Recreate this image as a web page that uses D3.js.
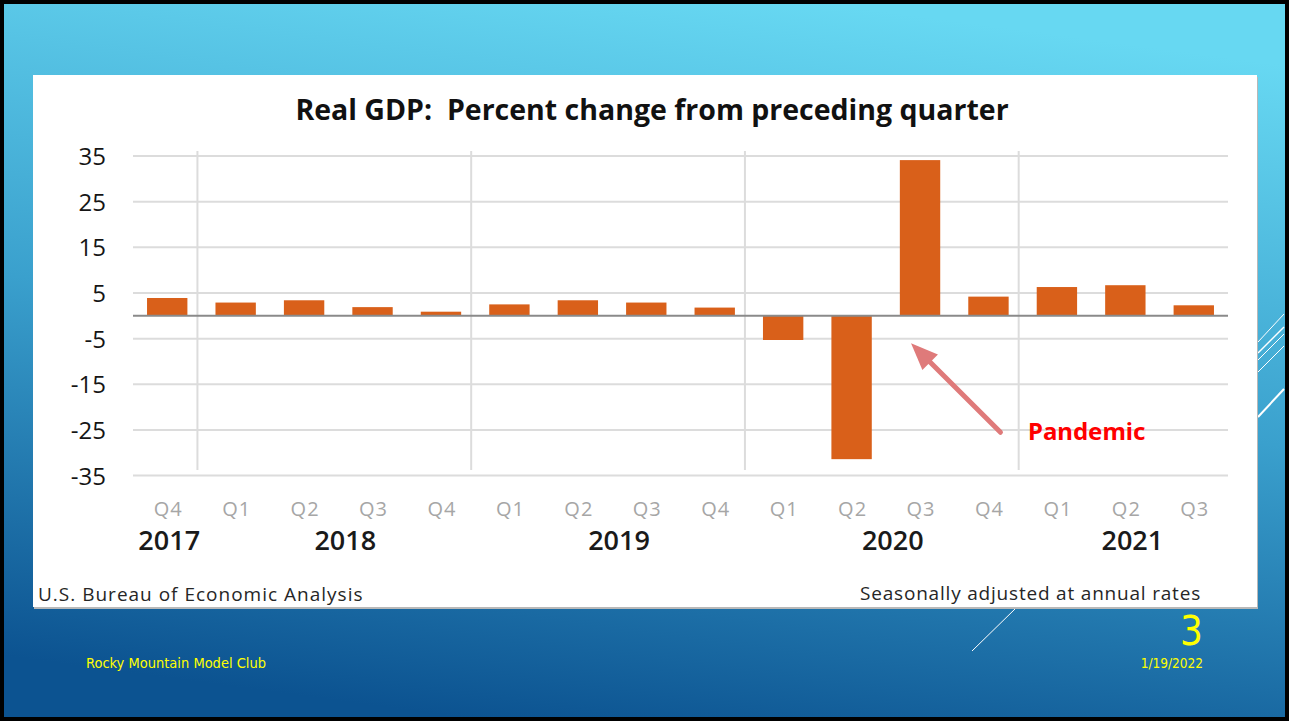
<!DOCTYPE html>
<html>
<head>
<meta charset="utf-8">
<script src="https://cdn.jsdelivr.net/npm/d3@7"></script>
<style>
  html, body { margin: 0; padding: 0; background: #000; }
  svg { display: block; }
</style>
</head>
<body>
<div id="slide"></div>
<script>
// chart values
var quarters = ["Q4","Q1","Q2","Q3","Q4","Q1","Q2","Q3","Q4","Q1","Q2","Q3","Q4","Q1","Q2","Q3"];
var years = ["2017","2018","2019","2020","2021"];
var yearOfQuarter = ["2017","2018","2018","2018","2018","2019","2019","2019","2019","2020","2020","2020","2020","2021","2021","2021"];
var growth = [3.9, 2.9, 3.4, 1.9, 0.9, 2.5, 3.4, 2.9, 1.8, -5.3, -31.4, 34.1, 4.2, 6.3, 6.7, 2.3];
var yTicks = [35, 25, 15, 5, -5, -15, -25, -35];

var svgWidth = 1289;
var svgHeight = 721;
var plot = {left: 133, right: 1228, top: 156, bottom: 475.6};

var svg = d3.select("#slide")
    .append("svg")
    .attr("width", svgWidth)
    .attr("height", svgHeight);

// slide background
var defs = svg.append("defs");
var grad = defs.append("linearGradient")
    .attr("id", "bg")
    .attr("x1", "0.62").attr("y1", "0")
    .attr("x2", "0.38").attr("y2", "1");
grad.append("stop").attr("offset", "0").attr("stop-color", "#67d8f2");
grad.append("stop").attr("offset", "0.5").attr("stop-color", "#3aa0cd");
grad.append("stop").attr("offset", "1").attr("stop-color", "#0c5391");

svg.append("rect")
    .attr("x", 0).attr("y", 0)
    .attr("width", svgWidth).attr("height", svgHeight)
    .attr("fill", "url(#bg)");

// decorative white strokes on the right edge
var deco = [[1258, 342, 1284, 314, 1], [1258, 353, 1284, 327, 1.5], [1258, 360, 1284, 334, 1], [1258, 372, 1284, 346, 1], [1258, 417, 1284, 389, 2]];
svg.selectAll(".deco")
    .data(deco)
    .enter()
    .append("line")
    .attr("class", "deco")
    .attr("x1", function(d){ return d[0]; })
    .attr("y1", function(d){ return d[1]; })
    .attr("x2", function(d){ return d[2]; })
    .attr("y2", function(d){ return d[3]; })
    .attr("stroke", "#ffffff")
    .attr("stroke-width", function(d){ return d[4]; });

svg.append("line")
    .attr("x1", 1016).attr("y1", 608)
    .attr("x2", 972).attr("y2", 651)
    .attr("stroke", "#ffffff")
    .attr("stroke-width", 1);

// white card holding the chart
svg.append("rect")
    .attr("x", 34).attr("y", 77)
    .attr("width", 1224).attr("height", 532)
    .attr("fill", "#b8b8b8");
svg.append("rect")
    .attr("x", 33).attr("y", 75)
    .attr("width", 1224).attr("height", 532)
    .attr("fill", "#ffffff");

var chart = svg.append("g").attr("font-family", "'Open Sans', sans-serif");

var xBand = d3.scaleBand()
    .domain(d3.range(quarters.length))
    .range([plot.left, plot.right])
    .paddingInner(0.41)
    .paddingOuter(0.205);

var yLinearScale = d3.scaleLinear()
    .domain([-35, 35])
    .range([plot.bottom, plot.top]);

function center(i) { return xBand(i) + xBand.bandwidth() / 2; }

// horizontal gridlines
chart.selectAll(".grid")
    .data(yTicks)
    .enter()
    .append("line")
    .attr("class", "grid")
    .attr("x1", plot.left)
    .attr("x2", plot.right)
    .attr("y1", function(d){ return yLinearScale(d); })
    .attr("y2", function(d){ return yLinearScale(d); })
    .attr("stroke", "#dcdcdc")
    .attr("stroke-width", 2);

// year separators
var step = xBand.step();
var splits = [1, 5, 9, 13];
chart.selectAll(".sep")
    .data(splits)
    .enter()
    .append("line")
    .attr("class", "sep")
    .attr("x1", function(d){ return xBand(d) - (step - xBand.bandwidth()) / 2 - 4; })
    .attr("x2", function(d){ return xBand(d) - (step - xBand.bandwidth()) / 2 - 4; })
    .attr("y1", 151)
    .attr("y2", 470)
    .attr("stroke", "#dcdcdc")
    .attr("stroke-width", 2);

// bars
chart.selectAll(".bar")
    .data(growth)
    .enter()
    .append("rect")
    .attr("class", "bar")
    .attr("x", function(d, i){ return xBand(i); })
    .attr("width", xBand.bandwidth())
    .attr("y", function(d){ return yLinearScale(Math.max(0, d)); })
    .attr("height", function(d){ return Math.abs(yLinearScale(d) - yLinearScale(0)); })
    .attr("fill", "#d9601a");

// zero line
chart.append("line")
    .attr("x1", plot.left).attr("x2", plot.right)
    .attr("y1", yLinearScale(0)).attr("y2", yLinearScale(0))
    .attr("stroke", "#8a8a8a")
    .attr("stroke-width", 2);

// y axis labels (plain hyphen like the source)
var leftAxis = d3.axisLeft(yLinearScale)
    .tickValues(yTicks)
    .tickFormat(function(d){ return String(d); })
    .tickSize(0)
    .tickPadding(0);
var yAxisG = chart.append("g")
    .attr("transform", "translate(106,0)")
    .call(leftAxis);
yAxisG.select(".domain").remove();
yAxisG.selectAll("text")
    .attr("font-family", "'Open Sans', sans-serif")
    .attr("font-size", 24)
    .attr("font-weight", 500)
    .attr("fill", "#151515")
    .attr("dy", "0.36em");

// quarter labels
var bottomAxis = d3.axisBottom(xBand)
    .tickFormat(function(i){ return quarters[i]; })
    .tickSize(0)
    .tickPadding(0);
var xAxisG = chart.append("g")
    .attr("transform", "translate(1,509)")
    .call(bottomAxis);
xAxisG.select(".domain").remove();
xAxisG.selectAll("text")
    .attr("font-family", "'Open Sans', sans-serif")
    .attr("font-size", 20)
    .attr("letter-spacing", "1px")
    .attr("fill", "#a6a6a6")
    .attr("dy", "0.36em");

// year labels centred under their quarters
chart.selectAll(".year")
    .data(years)
    .enter()
    .append("text")
    .attr("class", "year")
    .attr("x", function(y){
        var idx = d3.range(quarters.length).filter(function(i){ return yearOfQuarter[i] === y; });
        return d3.mean(idx, center) + (idx.length > 1 ? 7 : 2);
    })
    .attr("y", 550)
    .attr("text-anchor", "middle")
    .attr("font-size", 27)
    .attr("font-weight", 600)
    .attr("fill", "#1a1a1a")
    .text(function(y){ return y; });

// title
chart.append("text")
    .attr("x", 652)
    .attr("y", 120)
    .attr("text-anchor", "middle")
    .attr("font-size", 28.5)
    .attr("font-weight", 700)
    .attr("fill", "#111")
    .style("white-space", "pre")
    .text("Real GDP:  Percent change from preceding quarter");

// source notes
chart.append("text")
    .attr("x", 38).attr("y", 601)
    .attr("font-size", 19)
    .attr("letter-spacing", "1px")
    .attr("fill", "#262626")
    .text("U.S. Bureau of Economic Analysis");
chart.append("text")
    .attr("x", 1201).attr("y", 600)
    .attr("text-anchor", "end")
    .attr("font-size", 19)
    .attr("letter-spacing", "0.8px")
    .attr("fill", "#262626")
    .text("Seasonally adjusted at annual rates");

// pandemic annotation
var tip = [center(11) - 9, yLinearScale(-6)];
var tail = [center(12) + 12, yLinearScale(-25.5)];
var dx = tip[0] - tail[0], dy = tip[1] - tail[1];
var len = Math.sqrt(dx * dx + dy * dy);
var ux = dx / len, uy = dy / len;
var base = [tip[0] - ux * 27, tip[1] - uy * 27];
chart.append("line")
    .attr("x1", tail[0]).attr("y1", tail[1])
    .attr("x2", base[0] + ux * 2).attr("y2", base[1] + uy * 2)
    .attr("stroke", "#df7a7a")
    .attr("stroke-width", 5)
    .attr("stroke-linecap", "round");
chart.append("polygon")
    .attr("points", [
        tip,
        [base[0] - uy * 11, base[1] + ux * 11],
        [base[0] + uy * 11, base[1] - ux * 11]
    ].map(function(p){ return p.join(","); }).join(" "))
    .attr("fill", "#df7a7a");

chart.append("text")
    .attr("x", 1028).attr("y", 440)
    .attr("font-family", "'Noto Sans', sans-serif")
    .attr("font-size", 24)
    .attr("font-weight", 700)
    .attr("fill", "#ff0000")
    .text("Pandemic");

// slide footer
var foot = svg.append("g").attr("font-family", "'DejaVu Sans Condensed', 'Noto Sans', sans-serif").attr("fill", "#ffff00");
foot.append("text")
    .attr("x", 1203).attr("y", 645)
    .attr("text-anchor", "end")
    .attr("font-size", 40)
    .attr("font-weight", 200)
    .attr("font-family", "'DejaVu Sans Condensed', sans-serif")
    .text("3");
foot.append("text")
    .attr("x", 86).attr("y", 668)
    .attr("font-size", 14.5)
    .text("Rocky Mountain Model Club");
foot.append("text")
    .attr("x", 1203).attr("y", 668)
    .attr("text-anchor", "end")
    .attr("font-size", 13.5)
    .text("1/19/2022");

// black frame
svg.append("rect")
    .attr("x", 2).attr("y", 2)
    .attr("width", svgWidth - 4).attr("height", svgHeight - 4)
    .attr("fill", "none")
    .attr("stroke", "#000")
    .attr("stroke-width", 4);
</script>
</body>
</html>
